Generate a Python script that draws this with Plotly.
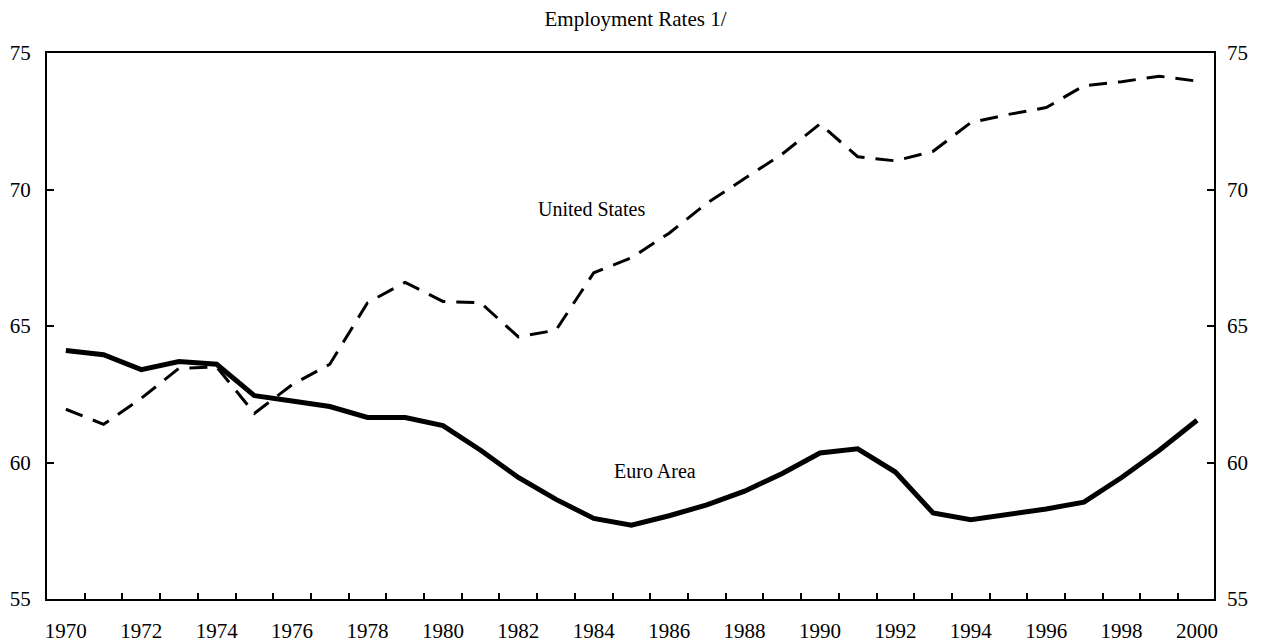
import plotly.graph_objects as go

# -----------------------
# DATA
# -----------------------
years = list(range(1970, 2001))

euro_area = [64.1, 63.95, 63.4, 63.7, 63.6, 62.45, 62.25, 62.05, 61.65, 61.65,
             61.35, 60.45, 59.45, 58.65, 57.95, 57.7, 58.05, 58.45, 58.95, 59.6,
             60.35, 60.5, 59.65, 58.15, 57.9, 58.1, 58.3, 58.55, 59.45, 60.45,
             61.55]

united_states = [61.95, 61.4, 62.35, 63.45, 63.5, 61.8, 62.85, 63.6, 65.85, 66.6,
                 65.9, 65.85, 64.6, 64.85, 66.95, 67.5, 68.4, 69.5, 70.4, 71.3,
                 72.4, 71.2, 71.05, 71.4, 72.45, 72.75, 73.0, 73.8, 73.95, 74.15,
                 73.97]

y_ticks = [55, 60, 65, 70, 75]
x_labels = list(range(1970, 2001, 2))

FONT = "Liberation Serif"
X_RANGE = [1969.5, 2000.45]

# year ticks sit between the years, labels sit on them
half_year_ticks = [y + 0.5 for y in years[:-1]]

# -----------------------
# FIGURE
# -----------------------
fig = go.Figure()

fig.add_trace(go.Scatter(
    x=years, y=united_states,
    mode="lines",
    line=dict(color="black", width=3, dash="18px,11px"),
    name="United States"
))

fig.add_trace(go.Scatter(
    x=years, y=euro_area,
    mode="lines",
    line=dict(color="black", width=5),
    name="Euro Area"
))

# invisible trace so the right axis and tick axis get drawn
fig.add_trace(go.Scatter(
    x=years, y=euro_area, xaxis="x2", yaxis="y2",
    mode="lines", line=dict(color="rgba(0,0,0,0)"),
    hoverinfo="skip", showlegend=False
))

fig.add_annotation(x=1983.95, y=69.3, text="United States", showarrow=False,
                   font=dict(family=FONT, size=20, color="black"))
fig.add_annotation(x=1985.62, y=59.7, text="Euro Area", showarrow=False,
                   font=dict(family=FONT, size=20, color="black"))

# page body has an 8px margin, so the figure is 8px smaller each way
fig.update_layout(
    width=1255, height=634,
    paper_bgcolor="white", plot_bgcolor="white",
    margin=dict(l=39, r=49, t=45, b=43, autoexpand=False),
    showlegend=False,
    title=dict(text="Employment Rates 1/", x=0.5, xanchor="center",
               y=0.983, yanchor="middle", automargin=False,
               font=dict(family=FONT, size=21, color="black")),
    font=dict(family=FONT, size=21, color="black"),
    xaxis=dict(
        range=X_RANGE,
        tickvals=x_labels,
        ticks="",
        automargin=False,
        showgrid=False, zeroline=False,
        showline=True, linecolor="black", linewidth=2, mirror=True,
        ticklabelstandoff=12,
    ),
    xaxis2=dict(
        range=X_RANGE,
        overlaying="x", side="bottom",
        tickvals=half_year_ticks,
        ticks="inside", ticklen=6, tickcolor="black", tickwidth=1.5,
        showticklabels=False, automargin=False,
        showgrid=False, zeroline=False, showline=False,
    ),
    yaxis=dict(
        range=[55, 75],
        tickvals=y_ticks,
        automargin=False,
        ticks="inside", ticklen=7, tickcolor="black", tickwidth=1.5,
        showgrid=False, zeroline=False,
        showline=True, linecolor="black", linewidth=2, mirror=True,
        ticklabelstandoff=10,
    ),
    yaxis2=dict(
        range=[55, 75],
        tickvals=y_ticks,
        overlaying="y", side="right",
        automargin=False,
        ticks="inside", ticklen=7, tickcolor="black", tickwidth=1.5,
        showgrid=False, zeroline=False, showline=False,
        ticklabelstandoff=12,
    ),
)

fig.write_html("out.html")
